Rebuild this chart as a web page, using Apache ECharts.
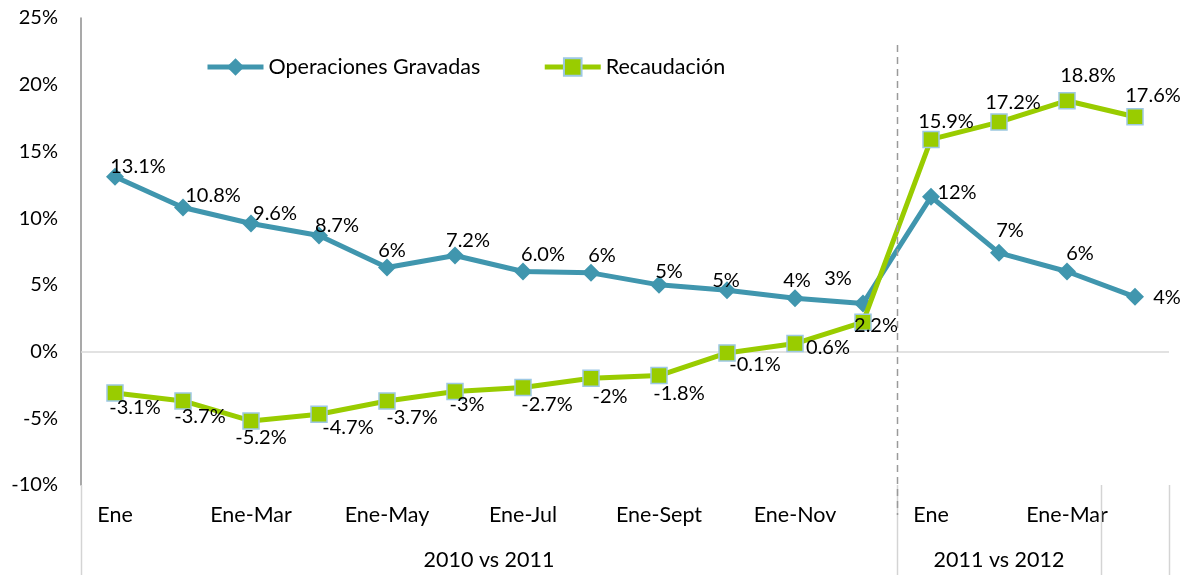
<!DOCTYPE html>
<html>
<head>
<meta charset="utf-8">
<script src="https://cdn.jsdelivr.net/npm/echarts@6/dist/echarts.min.js"></script>
<style>
html,body{margin:0;padding:0;background:#fff;}
#chart{width:1193px;height:575px;}
</style>
</head>
<body>
<div id="chart"></div>
<script>
// ---- data ----
const categories = ['Ene','Ene-Feb','Ene-Mar','Ene-Abr','Ene-May','Ene-Jun','Ene-Jul','Ene-Ago','Ene-Sept','Ene-Oct','Ene-Nov','Ene-Dic','Ene','Ene-Feb','Ene-Mar','Ene-Abr'];
const groupNames = ['2010 vs 2011', '2011 vs 2012'];
const groupSpans = [[0, 12], [12, 15], [15, 16]]; // category index ranges of the groups (last one unnamed)
const opsName = 'Operaciones Gravadas';
const recName = 'Recaudación';
const opsValues = [13.1, 10.8, 9.6, 8.7, 6.3, 7.2, 6.0, 5.9, 5.0, 4.6, 4.0, 3.6, 11.6, 7.4, 6.0, 4.1];
const opsLabels = ['13.1%','10.8%','9.6%','8.7%','6%','7.2%','6.0%','6%','5%','5%','4%','3%','12%','7%','6%','4%'];
const recValues = [-3.1, -3.7, -5.2, -4.7, -3.7, -3.0, -2.7, -2.0, -1.8, -0.1, 0.6, 2.2, 15.9, 17.2, 18.8, 17.6];
const recLabels = ['-3.1%','-3.7%','-5.2%','-4.7%','-3.7%','-3%','-2.7%','-2%','-1.8%','-0.1%','0.6%','2.2%','15.9%','17.2%','18.8%','17.6%'];
const yMin = -10, yMax = 25, yStep = 5;

// ---- layout (label offsets from the marker centre, px) ----
const opsLabelOffsets = [[23,-10],[30,-12],[24,-10],[18,-10],[5,-17],[13,-15],[20,-17],[11,-17],[10,-13],[-1,-10],[2,-18],[-25,-25],[26,-4],[11,-22],[13,-18],[32,1]];
const recLabelOffsets = [[20,15],[17,16],[10,17],[29,13],[25,17],[12,13],[24,17],[19,18],[20,18],[28,12],[33,4],[13,3],[15,-18],[14,-20],[21,-25],[18,-21]];

const FONT = 'Lato, "Open Sans", sans-serif';
const BLUE = '#4096AE';
const GREEN = '#99CC00';
const TXT = 21.5;

function mkData(vals, labels, offs) {
  return vals.map((v, i) => ({
    value: v,
    label: { formatter: labels[i], offset: offs[i] }
  }));
}

const chart = echarts.init(document.getElementById('chart'), null, { renderer: 'canvas' });

const labelBase = {
  show: true, position: 'inside', align: 'center', verticalAlign: 'middle',
  color: '#000', fontSize: 20, fontFamily: FONT
};

chart.setOption({
  animation: false,
  backgroundColor: '#fff',
  textStyle: { fontFamily: FONT },
  grid: { left: 81, right: 24, top: 18, bottom: 90, containLabel: false },
  legend: {
    left: 205, top: 56, padding: 0, itemGap: 62, itemWidth: 56, itemHeight: 22,
    lineStyle: { width: 5 },
    textStyle: { fontSize: TXT, color: '#000', fontFamily: FONT },
    data: [opsName, recName]
  },
  xAxis: [{
    type: 'category', data: categories, boundaryGap: true,
    axisLine: { show: false, onZero: false },
    axisTick: { show: false },
    splitLine: { show: false },
    axisLabel: {
      interval: 1, margin: 19, fontSize: TXT, color: '#000', fontFamily: FONT
    }
  }],
  yAxis: {
    type: 'value', min: yMin, max: yMax, interval: yStep,
    axisLine: { show: true, lineStyle: { color: '#8c8c8c', width: 1.5 } },
    axisTick: { show: false },
    splitLine: { show: false },
    axisLabel: {
      margin: 23, fontSize: 20, color: '#000', fontFamily: FONT,
      formatter: v => v + '%'
    }
  },
  series: [
    {
      name: opsName, type: 'line', data: mkData(opsValues, opsLabels, opsLabelOffsets),
      symbol: 'diamond', symbolSize: 18, showAllSymbol: true,
      lineStyle: { color: BLUE, width: 5 },
      itemStyle: { color: BLUE },
      label: labelBase,
      z: 3
    },
    {
      name: recName, type: 'line', data: mkData(recValues, recLabels, recLabelOffsets),
      symbol: 'rect', symbolSize: 16, showAllSymbol: true,
      lineStyle: { color: GREEN, width: 5 },
      itemStyle: { color: GREEN, borderColor: '#9DC8E4', borderWidth: 1.5 },
      label: labelBase,
      markLine: {
        silent: true, symbol: 'none', label: { show: false },
        lineStyle: { color: '#d9d9d9', width: 1.5, type: 'solid' },
        data: [{ yAxis: 0 }],
        z: 1
      },
      z: 4
    }
  ]
});

// ---- group separators, dashed divider and group labels from the axis scale ----
function drawExtras() {
  const c0 = chart.convertToPixel({ xAxisIndex: 0 }, 0);
  const c1 = chart.convertToPixel({ xAxisIndex: 0 }, 1);
  const band = c1 - c0;
  const boundary = i => c0 - band / 2 + i * band;
  const yBottom = chart.convertToPixel({ yAxisIndex: 0 }, yMin);
  const yTop = chart.convertToPixel({ yAxisIndex: 0 }, yMax);
  const els = [];
  const seps = [0];
  groupSpans.forEach(s => seps.push(s[1]));
  seps.forEach(i => {
    const x = Math.round(boundary(i)) + 0.5;
    els.push({ type: 'line', silent: true, z: 10,
      shape: { x1: x, y1: yBottom, x2: x, y2: 575 },
      style: { stroke: '#d4d4d4', lineWidth: 1.5 } });
  });
  const xd = Math.round(boundary(groupSpans[0][1])) + 0.5;
  els.push({ type: 'line', silent: true, z: 10,
    shape: { x1: xd, y1: yTop + 27, x2: xd, y2: yBottom + 30 },
    style: { stroke: '#9a9a9a', lineWidth: 1.5, lineDash: [7, 5] } });
  groupNames.forEach((name, g) => {
    const s = groupSpans[g];
    const cx = (boundary(s[0]) + boundary(s[1])) / 2;
    els.push({ type: 'text', silent: true, z: 10,
      x: cx, y: 560,
      style: { text: name, fontSize: TXT, fontFamily: FONT, fill: '#000', align: 'center', verticalAlign: 'middle' } });
  });
  chart.setOption({ graphic: els });
}
drawExtras();
</script>
</body>
</html>
